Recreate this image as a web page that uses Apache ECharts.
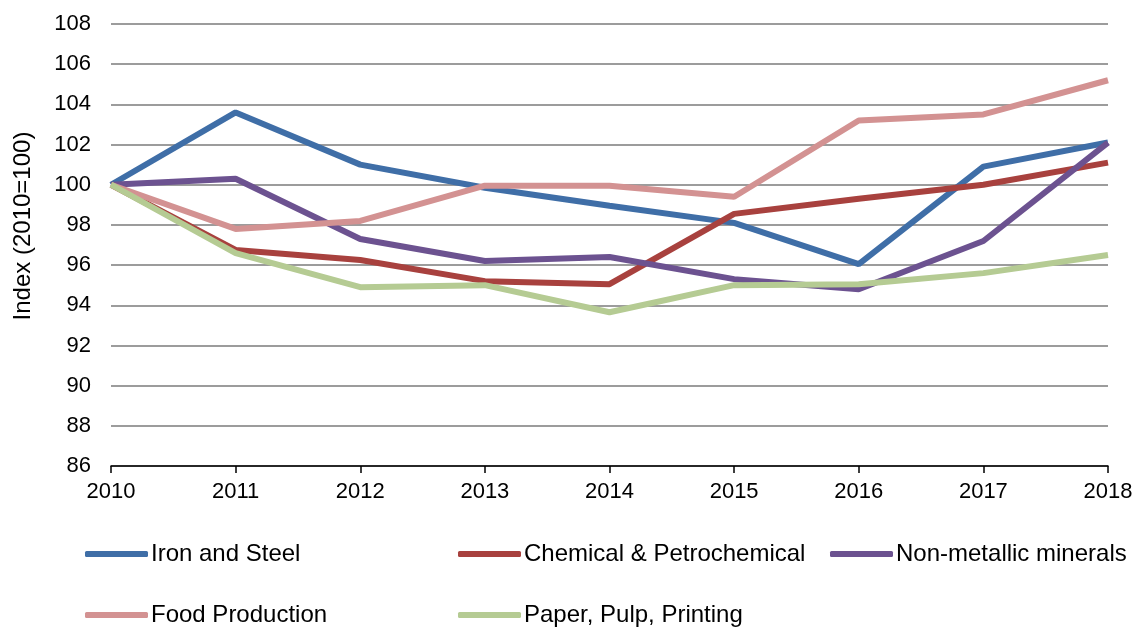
<!DOCTYPE html>
<html>
<head>
<meta charset="utf-8">
<script src="https://cdn.jsdelivr.net/npm/echarts@6/dist/echarts.min.js"></script>
<style>
  html, body { margin: 0; padding: 0; background: #fff; }
  #main { width: 1139px; height: 628px; }
</style>
</head>
<body>
<div id="main"></div>
<script>
  // Data
  const years = ["2010", "2011", "2012", "2013", "2014", "2015", "2016", "2017", "2018"];
  const ironSteel = [100, 103.6, 101.0, 99.85, 98.95, 98.1, 96.05, 100.9, 102.1];
  const chemical = [100, 96.75, 96.25, 95.2, 95.05, 98.55, 99.3, 100.0, 101.1];
  const nonMetallic = [100, 100.3, 97.3, 96.2, 96.4, 95.3, 94.8, 97.2, 102.1];
  const food = [100, 97.8, 98.2, 99.95, 99.95, 99.4, 103.2, 103.5, 105.2];
  const paper = [100, 96.6, 94.9, 95.0, 93.65, 95.0, 95.05, 95.6, 96.5];

  const seriesNames = [
    "Iron and Steel",
    "Chemical & Petrochemical",
    "Non-metallic minerals",
    "Food Production",
    "Paper, Pulp, Printing",
  ];
  const seriesData = [ironSteel, chemical, nonMetallic, food, paper];
  const colors = ["#3F6EA7", "#A8413E", "#6C5290", "#D39292", "#B5CB93"];

  // legend slots: [left, top]
  const legendPos = [[85, 542], [458, 542], [830, 542], [85, 603], [458, 603]];

  var chartDom = document.getElementById("main");
  var myChart = echarts.init(chartDom);
  var option;

  const font = "'Liberation Sans', Arial, sans-serif";

  option = {
    animation: false,
    color: colors,
    grid: { left: 111, right: 31, top: 24, bottom: 162 },
    legend: seriesNames.map((name, i) => ({
      data: [name],
      left: legendPos[i][0],
      top: legendPos[i][1],
      padding: 0,
      icon: "roundRect",
      itemWidth: 63,
      itemHeight: 6,
      textStyle: { fontFamily: font, fontSize: 24, color: "#000", padding: [0, 0, 0, -2] },
    })),
    xAxis: {
      type: "category",
      data: years,
      boundaryGap: false,
      axisLine: { lineStyle: { color: "#000", width: 1.5 } },
      axisTick: { show: true, length: 7, alignWithLabel: true, lineStyle: { color: "#000", width: 1.5 } },
      axisLabel: { fontFamily: font, fontSize: 22, color: "#000", margin: 15 },
    },
    yAxis: {
      type: "value",
      min: 86,
      max: 108,
      interval: 2,
      name: "Index (2010=100)",
      nameLocation: "middle",
      nameGap: 76,
      nameTextStyle: { fontFamily: font, fontSize: 24, color: "#000", padding: [0, 0, 0, 38] },
      axisLine: { show: false },
      axisTick: { show: false },
      axisLabel: { fontFamily: font, fontSize: 22, color: "#000", margin: 20 },
      splitLine: { lineStyle: { color: "#9C9C9C", width: 2 } },
    },
    series: seriesNames.map((name, i) => ({
      name: name,
      type: "line",
      data: seriesData[i],
      symbol: "none",
      lineStyle: { width: 6, color: colors[i] },
      itemStyle: { color: colors[i] },
    })),
  };

  option && myChart.setOption(option);
</script>
</body>
</html>
